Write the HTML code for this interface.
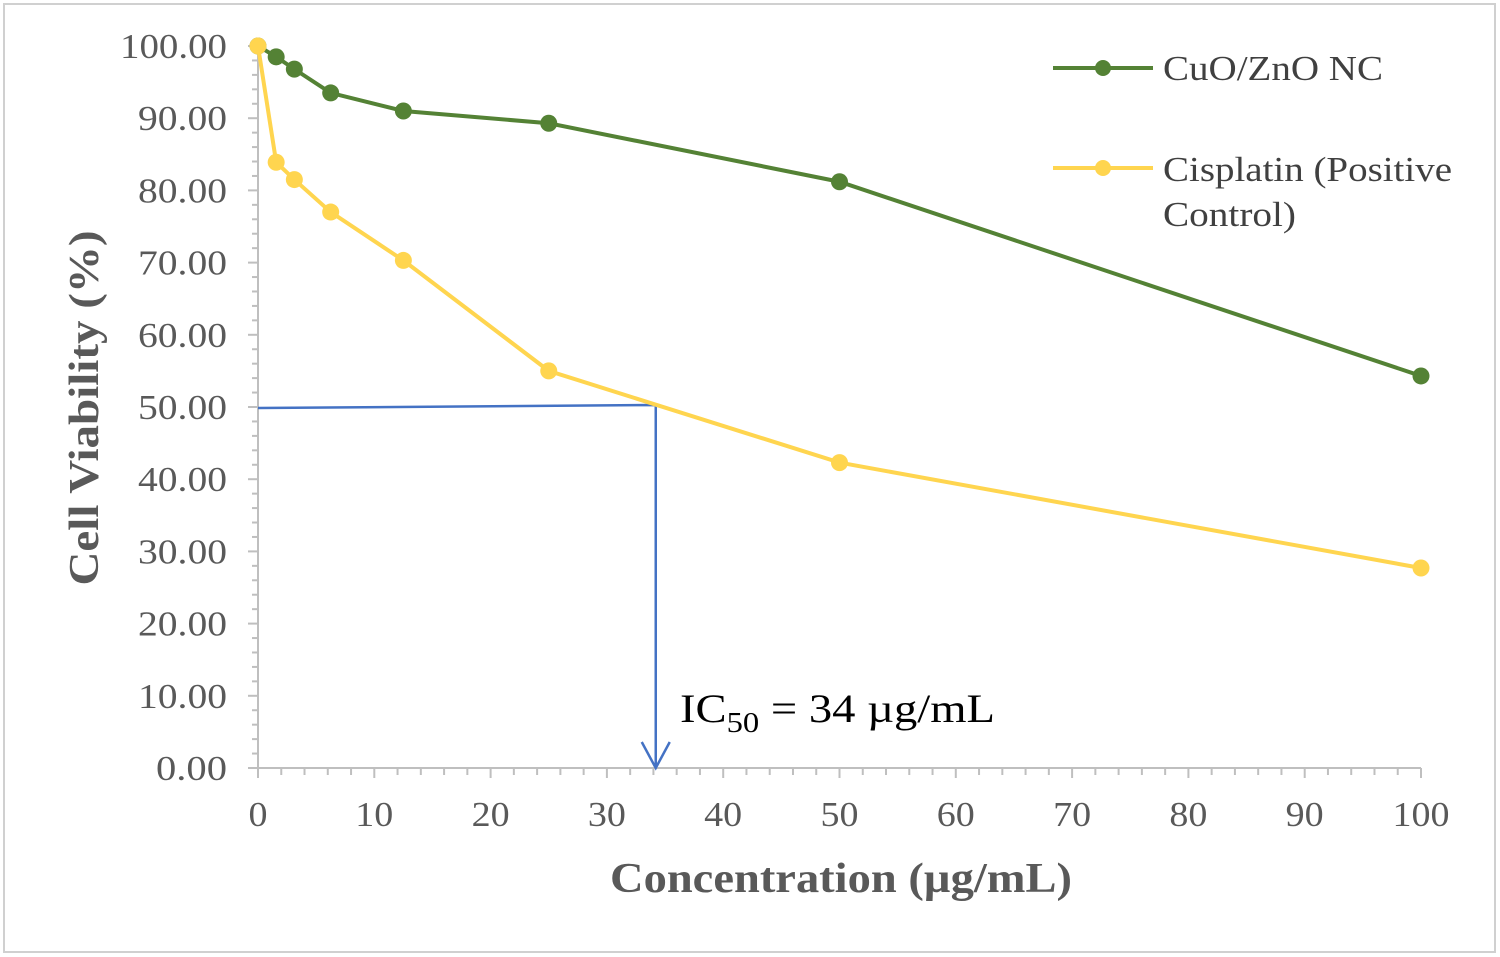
<!DOCTYPE html>
<html><head><meta charset="utf-8">
<style>
html,body{margin:0;padding:0;background:#fff;}
svg{display:block;}
text{font-family:"Liberation Serif",serif;}
</style></head>
<body>
<svg id="chart" width="1500" height="957" viewBox="0 0 1500 957" xmlns="http://www.w3.org/2000/svg">
<rect x="4" y="4" width="1491" height="948" fill="#fff" stroke="#d0d0d0" stroke-width="2"/>
<g id="axes"></g>
<g id="marks"></g>
<text transform="translate(98,408) rotate(-90)" text-anchor="middle" font-size="42" font-weight="bold" fill="#595959" textLength="355" lengthAdjust="spacingAndGlyphs">Cell Viability (%)</text>
<text x="841" y="892" text-anchor="middle" font-size="42" font-weight="bold" fill="#595959" textLength="462" lengthAdjust="spacingAndGlyphs">Concentration (µg/mL)</text>
<text x="680" y="722" font-size="40" fill="#000" textLength="315" lengthAdjust="spacingAndGlyphs">IC<tspan font-size="28" dy="10">50</tspan><tspan dy="-10"> = 34 µg/mL</tspan></text>
<g>
  <g>
    <line x1="1053" y1="68" x2="1153" y2="68" stroke="#548235" stroke-width="4"/>
    <circle cx="1103" cy="68" r="8" fill="#548235"/>
    <text x="1163" y="80" font-size="35" fill="#404040" textLength="220" lengthAdjust="spacingAndGlyphs">CuO/ZnO NC</text>
  </g>
  <g>
    <line x1="1053" y1="168" x2="1153" y2="168" stroke="#ffd54f" stroke-width="4"/>
    <circle cx="1103" cy="168" r="8" fill="#ffd54f"/>
    <text x="1163" y="181" font-size="35" fill="#404040" textLength="289" lengthAdjust="spacingAndGlyphs">Cisplatin (Positive</text>
    <text x="1163" y="226" font-size="35" fill="#404040" textLength="133" lengthAdjust="spacingAndGlyphs">Control)</text>
  </g>
</g>
</svg>
<script>
const concentrations = [0, 1.5625, 3.125, 6.25, 12.5, 25, 50, 100];
const cuoZnoValues = [100, 98.5, 96.8, 93.5, 91.0, 89.3, 81.2, 54.3];
const cisplatinValues = [100, 83.9, 81.5, 77.0, 70.3, 55.0, 42.3, 27.7];
const xTicks = [0,10,20,30,40,50,60,70,80,90,100];
const yTicks = [0,10,20,30,40,50,60,70,80,90,100];
const yTickLabels = ["0.00","10.00","20.00","30.00","40.00","50.00","60.00","70.00","80.00","90.00","100.00"];
const ic50 = 34.2;
const ic50Level = 50;

const NS = "http://www.w3.org/2000/svg";
const X0=258, X1=1421, Y0=768, Y1=46;
function xs(v){return X0+(v/100)*(X1-X0);}
function ys(v){return Y0-(v/100)*(Y0-Y1);}
function mk(tag, attrs, parent){const e=document.createElementNS(NS,tag);for(const k in attrs)e.setAttribute(k,attrs[k]);parent.appendChild(e);return e;}
const axes=document.getElementById('axes'), marks=document.getElementById('marks');
const AX="#bfbfbf";

const xa=mk('line',{x1:X0,y1:Y0,x2:X1,y2:Y0,stroke:AX,'stroke-width':2},axes);


const ya=mk('line',{x1:X0,y1:Y0,x2:X0,y2:Y1,stroke:AX,'stroke-width':2},axes);


for(let v=0;v<=100;v+=2){
  const major=v%10===0;
  mk('line',{x1:xs(v),y1:Y0,x2:xs(v),y2:Y0+(major?10:7),stroke:AX,'stroke-width':2},axes);
  mk('line',{x1:X0,y1:ys(v),x2:X0-(major?10:6),y2:ys(v),stroke:AX,'stroke-width':2},axes);
}
xTicks.forEach(v=>{
  const s=String(v);
  const t=mk('text',{x:xs(v),y:826,'text-anchor':'middle','font-size':35,fill:'#595959',textLength:s.length*19,lengthAdjust:'spacingAndGlyphs'},axes);
  t.textContent=v;
  
  
});
yTicks.forEach((v,i)=>{
  const s=yTickLabels[i];
  const w=s.length===6?107:(s.length===5?89:71);
  const t=mk('text',{x:227,y:ys(v)+12,'text-anchor':'end','font-size':35,fill:'#595959',textLength:w,lengthAdjust:'spacingAndGlyphs'},axes);
  t.textContent=s;
  
  
});

const hl=mk('polyline',{points:`${xs(0)},${ys(ic50Level)+1} ${xs(ic50)},${ys(ic50Level)-2} ${xs(ic50)},${ys(0)}`,fill:'none',stroke:'#4472c4','stroke-width':2.5},marks);


const ah=mk('polyline',{points:`${xs(ic50)-14},${ys(0)-26} ${xs(ic50)},${ys(0)} ${xs(ic50)+14},${ys(0)-26}`,fill:'none',stroke:'#4472c4','stroke-width':2.5},marks);



function series(vals,color,name){
  const pts=concentrations.map((c,i)=>xs(c)+','+ys(vals[i])).join(' ');
  const l=mk('polyline',{points:pts,fill:'none',stroke:color,'stroke-width':4},marks);
  
  
  concentrations.forEach((c,i)=>{
    const p=mk('circle',{cx:xs(c),cy:ys(vals[i]),r:8.5,fill:color},marks);
    
    
  });
}
series(cuoZnoValues,'#548235','cuo-zno');
series(cisplatinValues,'#ffd54f','cisplatin');
</script>
</body></html>
